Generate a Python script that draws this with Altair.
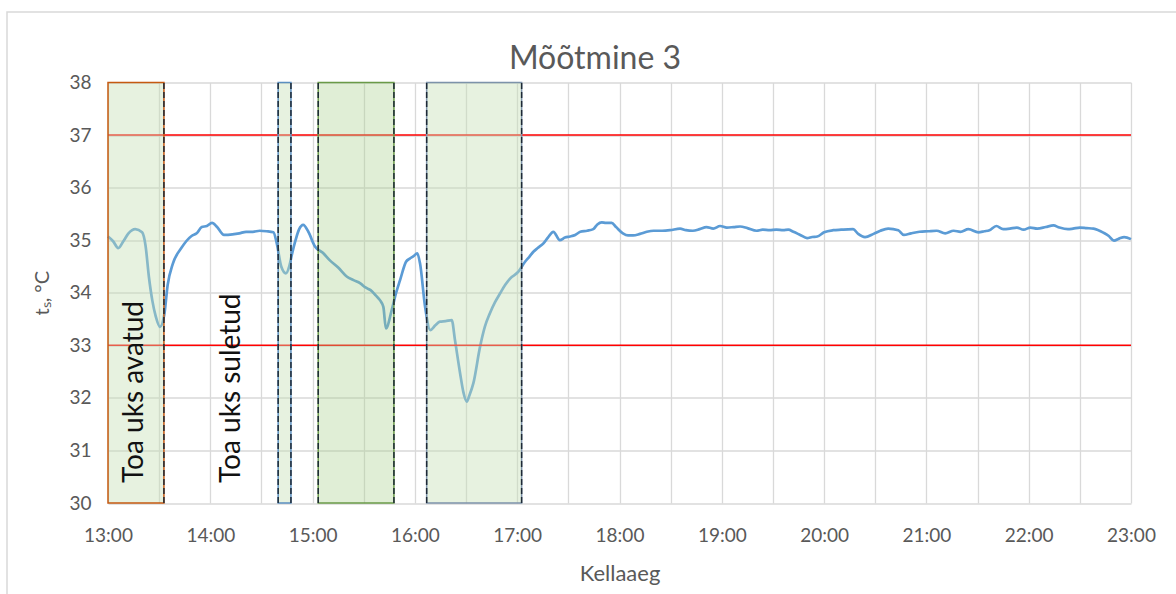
import json
import altair as alt
import pandas as pd

# ---- data ----
minutes = [0, 3, 6, 9, 12, 16, 20, 22, 24, 26, 28, 30.5, 33, 35, 38, 43, 49, 52, 55, 58,
           61, 64, 68, 73, 77, 81, 85, 89, 93, 97, 99, 101.6, 104.4, 106.3, 108, 110, 112,
           114.5, 117.5, 121.4, 126, 130, 135, 140, 144, 148, 151, 154, 157, 159.5, 161.5,
           163, 166.4, 169, 171.3, 174.8, 177, 179, 181.4, 183, 186, 189, 192, 194.7, 198,
           201.6, 203.5, 206.5, 208.5, 210.4, 212, 214.3, 218.2, 221, 224, 227, 230, 233,
           235.8, 240.7, 244.6, 247, 249.5, 252, 255.4, 258, 261.2, 265, 268, 271, 274, 277,
           281, 284.6, 287, 289.6, 292, 295.4, 298, 302, 305, 308, 312, 316, 320, 325, 329.6,
           335.5, 339, 343, 347, 351, 355, 359, 363, 367, 370.7, 375, 380.4, 384, 388, 392,
           396, 399, 402, 406, 410, 413, 416, 420, 425.4, 430, 437, 440, 444, 449, 453, 457.6,
           463.5, 466.8, 471, 476, 481, 486, 491, 496, 500, 504.6, 510.5, 514, 517, 521, 525,
           529, 533, 537, 541, 545, 550, 554.5, 558, 563, 566, 570, 574, 578, 584, 587, 590,
           593, 596, 600]
temps = [35.07, 34.98, 34.85, 34.98, 35.13, 35.21, 35.15, 34.9, 34.3, 33.85, 33.55, 33.35,
         33.58, 34.15, 34.55, 34.85, 35.08, 35.13, 35.25, 35.27, 35.33, 35.25, 35.10, 35.11,
         35.13, 35.16, 35.16, 35.18, 35.17, 35.15, 34.94, 34.5, 34.37, 34.5, 34.75, 35.0, 35.2,
         35.29, 35.16, 34.88, 34.76, 34.62, 34.48, 34.31, 34.24, 34.18, 34.1, 34.05, 33.95,
         33.86, 33.73, 33.32, 33.67, 34.0, 34.24, 34.59, 34.65, 34.69, 34.75, 34.56, 33.73,
         33.29, 33.38, 33.45, 33.46, 33.48, 33.10, 32.47, 32.1, 31.93, 32.05, 32.28, 32.97,
         33.35, 33.61, 33.82, 33.99, 34.15, 34.27, 34.40, 34.59, 34.68, 34.78, 34.85, 34.94,
         35.05, 35.16, 35.0, 35.05, 35.07, 35.1, 35.16, 35.18, 35.21, 35.3, 35.34, 35.33,
         35.33, 35.25, 35.13, 35.09, 35.09, 35.12, 35.16, 35.18, 35.18, 35.19, 35.22, 35.19,
         35.18, 35.21, 35.25, 35.22, 35.27, 35.24, 35.25, 35.26, 35.23, 35.18, 35.2, 35.19,
         35.2, 35.19, 35.2, 35.16, 35.1, 35.04, 35.06, 35.07, 35.15, 35.19, 35.2, 35.21, 35.12,
         35.06, 35.12, 35.18, 35.22, 35.19, 35.10, 35.13, 35.16, 35.17, 35.18, 35.13, 35.18,
         35.16, 35.21, 35.15, 35.17, 35.19, 35.27, 35.21, 35.22, 35.24, 35.2, 35.24, 35.22,
         35.25, 35.28, 35.24, 35.21, 35.22, 35.24, 35.23, 35.22, 35.14, 35.08, 34.99, 35.03,
         35.06, 35.02]

hour_labels = ["13:00", "14:00", "15:00", "16:00", "17:00", "18:00",
               "19:00", "20:00", "21:00", "22:00", "23:00"]
limit_values = [37, 33]

region_start = [0, 99.8, 123.3, 186.9]
region_end = [32.8, 107.3, 167.7, 242.6]
region_fill = ["#C5E0B4", "#C5E0B4", "#A9D08E", "#C5E0B4"]
region_opacity = [0.42, 0.42, 0.36, 0.42]
region_stroke = ["#C55A11", "#5B8FC0", "#6A9A48", "#7D93AA"]
dashed_at = [32.8, 99.8, 107.3, 123.3, 167.7, 186.9, 242.6]

note_texts = ["Toa uks avatud", "Toa uks suletud"]
note_x = [15.8, 72.7]
note_y = [30.38, 30.38]

chart_title = "Mõõtmine 3"

FONT = "Lato"
Y0, Y1 = 30, 38

line_df = pd.DataFrame({"m": minutes, "t": temps})
reg_df = pd.DataFrame({"s": region_start, "e": region_end, "fill": region_fill,
                       "op": region_opacity, "stroke": region_stroke,
                       "y0": [Y0] * 4, "y1": [Y1] * 4})
dash_df = pd.DataFrame({"m": dashed_at, "y0": [Y0] * len(dashed_at), "y1": [Y1] * len(dashed_at)})
lim_df = pd.DataFrame({"t": limit_values, "x0": [0, 0], "x1": [600, 600]})
note_df = pd.DataFrame({"txt": note_texts, "m": note_x, "t": note_y})
frame_df = pd.DataFrame({"k": [0]})
title_df = pd.DataFrame({"txt": [chart_title]})

label_expr = ("datum.value % 60 == 0 ? " + json.dumps(hour_labels) +
              "[round(datum.value / 60)] : ''")

xscale = alt.Scale(domain=[0, 600], nice=False, zero=False)
yscale = alt.Scale(domain=[Y0, Y1], nice=False, zero=False)

xaxis = alt.Axis(values=list(range(0, 601, 30)), labelExpr=label_expr, title="Kellaaeg",
                 labelFlush=False, labelOverlap=False, labelPadding=23, titlePadding=18,
                 titleFontSize=22)
yaxis = alt.Axis(values=list(range(30, 39)), title="tₛ, °C", labelPadding=17,
                 titlePadding=16, labelFlush=False)

frame = alt.Chart(frame_df).mark_rect(fill="transparent", stroke="#D9D9D9",
                                      strokeWidth=1.5, clip=False).encode(
    x=alt.value(-101), x2=alt.value(1200), y=alt.value(-70.5), y2=alt.value(620))

title = alt.Chart(title_df).mark_text(font=FONT, fontSize=32, color="#595959",
                                      align="center", baseline="middle").encode(
    x=alt.value(487), y=alt.value(-24), text="txt:N")

line = alt.Chart(line_df).mark_line(color="#5B9BD5", strokeWidth=2.7,
                                    interpolate="monotone").encode(
    x=alt.X("m:Q", scale=xscale, axis=xaxis),
    y=alt.Y("t:Q", scale=yscale, axis=yaxis))

limits = alt.Chart(lim_df).mark_rule(color="#FF0000", strokeWidth=1.5).encode(
    y=alt.Y("t:Q", scale=yscale), x=alt.X("x0:Q", scale=xscale), x2="x1:Q")

regions = alt.Chart(reg_df).mark_rect(strokeWidth=1.5).encode(
    x=alt.X("s:Q", scale=xscale), x2="e:Q",
    y=alt.Y("y0:Q", scale=yscale), y2="y1:Q",
    fill=alt.Fill("fill:N", scale=None),
    fillOpacity=alt.FillOpacity("op:Q", scale=None),
    stroke=alt.Stroke("stroke:N", scale=None))

dashes = alt.Chart(dash_df).mark_rule(color="#1E2A36", strokeWidth=1.5,
                                      strokeDash=[6, 3]).encode(
    x=alt.X("m:Q", scale=xscale), y=alt.Y("y0:Q", scale=yscale), y2="y1:Q")

notes = alt.Chart(note_df).mark_text(angle=270, align="left", baseline="middle",
                                     font=FONT, fontSize=28, color="#111111").encode(
    x=alt.X("m:Q", scale=xscale), y=alt.Y("t:Q", scale=yscale), text="txt:N")

chart = alt.layer(frame, title, line, limits, regions, dashes, notes).properties(
    width=1023, height=420.5,
    background="white",
    autosize=alt.AutoSizeParams(type="none"),
    padding={"left": 108, "top": 82.5, "right": 45, "bottom": 91},
).configure_view(stroke=None).configure_axis(
    domain=False, ticks=False, gridColor="#D9D9D9", gridWidth=1.3,
    labelColor="#595959", labelFont=FONT, labelFontSize=19,
    titleColor="#595959", titleFont=FONT, titleFontSize=20, titleFontWeight="normal",
)

chart.save("out.html", embed_options={"renderer": "svg", "actions": False})
